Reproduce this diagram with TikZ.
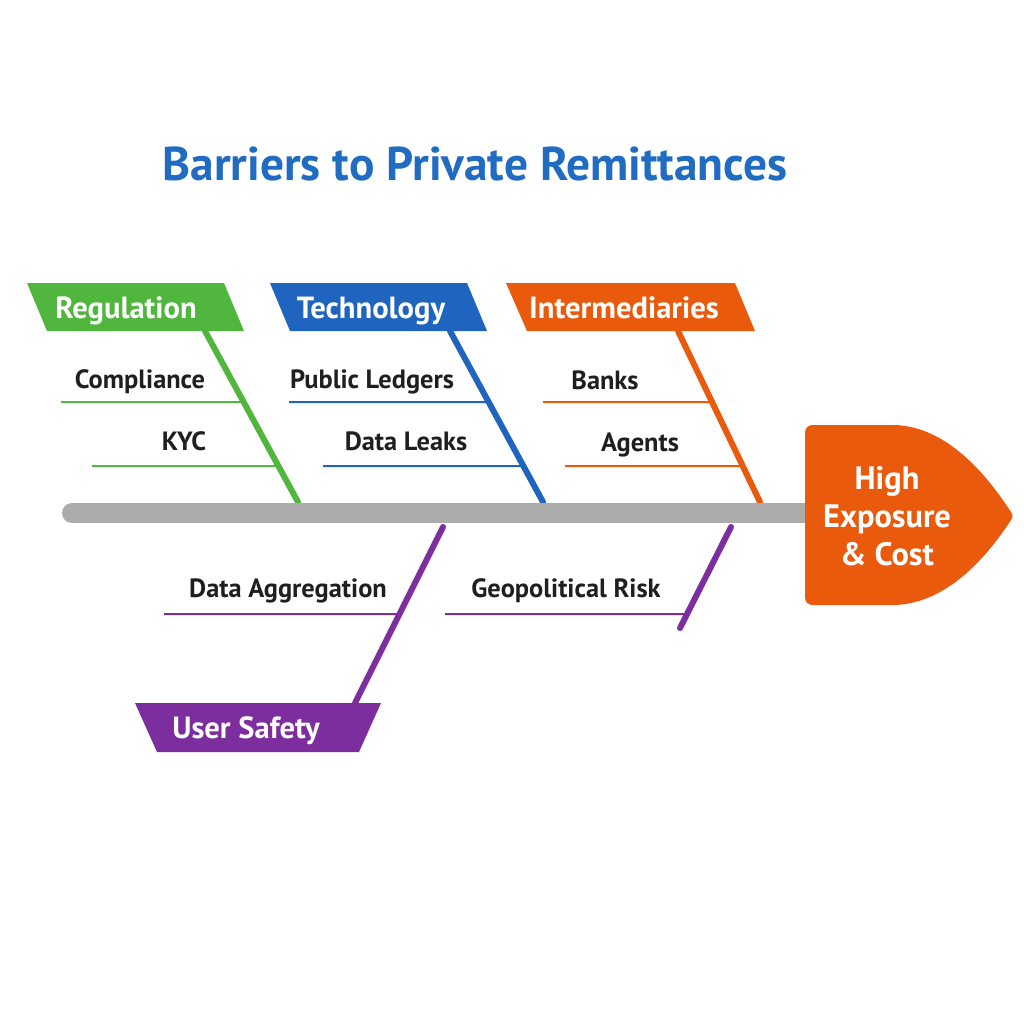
\documentclass[tikz,border=0pt]{standalone}
\usepackage{fontspec}
\setmainfont{PT Sans}
\definecolor{titleblue}{RGB}{31,108,194}
\definecolor{regc}{RGB}{80,182,62}
\definecolor{techc}{RGB}{31,100,190}
\definecolor{interc}{RGB}{234,90,12}
\definecolor{userc}{RGB}{124,46,158}
\definecolor{spinec}{RGB}{172,172,172}
\begin{document}
\begin{tikzpicture}[x=0.5pt,y=-0.5pt,
  cat/.style={font=\bfseries\fontsize{15.3}{17}\selectfont, text=white, anchor=base, inner sep=0pt},
  sub/.style={font=\bfseries\fontsize{13.2}{15}\selectfont, text=black!88, anchor=base, inner sep=0pt},
  bone/.style={line width=3pt, line cap=round},
  twig/.style={line width=1pt}]
  \useasboundingbox[fill=white] (0,0) rectangle (1024,1024);
  \node[font=\bfseries\fontsize{23.7}{28}\selectfont, text=titleblue, anchor=base] (title) at (475,180) {Barriers to Private Remittances};
  % bones
  \coordinate (regb) at (205,331); \coordinate (regs) at (298,502);
  \coordinate (techb) at (450,331); \coordinate (techs) at (543,502);
  \coordinate (interb) at (678,331); \coordinate (inters) at (760,502);
  \coordinate (userb) at (355,703); \coordinate (users) at (443,527);
  \coordinate (geos) at (731,527); \coordinate (geob) at (680,628);
  \draw[bone, regc] (regb) -- (regs);
  \draw[bone, techc] (techb) -- (techs);
  \draw[bone, interc] (interb) -- (inters);
  \draw[bone, userc] (userb) -- (users);
  \draw[bone, userc] (geob) -- (geos);
  % spine and head
  \coordinate (tail) at (72,513);
  \coordinate (spineend) at (815,513);
  \draw[spinec, line width=10pt, line cap=round] (tail) -- (spineend);
  \fill[interc] (813,425) -- (895,425) .. controls (950,427) and (990,480) .. (1011,512)
    .. controls (1013,515) and (1013,517) .. (1011,520)
    .. controls (990,552) and (950,603) .. (895,605) -- (813,605)
    .. controls (808,605) and (805,602) .. (805,597) -- (805,433)
    .. controls (805,428) and (808,425) .. (813,425) -- cycle;
  \node[font=\bfseries\fontsize{16.2}{19}\selectfont, text=white, align=center] (effect) at (887,516) {High\\Exposure\\\& Cost};
  % categories
  \fill[regc] (27,283) -- (224,283) -- (244,331) -- (47,331) -- cycle;
  \node[cat] (reg) at (126,318) {Regulation};
  \fill[techc] (270,283) -- (467,283) -- (487,331) -- (290,331) -- cycle;
  \node[cat] (tech) at (371,318) {Technology};
  \fill[interc] (506,283) -- (735,283) -- (755,331) -- (527,331) -- cycle;
  \node[cat] (inter) at (624,318) {Intermediaries};
  \fill[userc] (135,703) -- (381,703) -- (359,752) -- (157,752) -- cycle;
  \node[cat] (user) at (246,738) {User Safety};
  % causes
  \node[sub] (compl) at (140,388) {Compliance};
  \node[sub] (kyc) at (184,450) {KYC};
  \node[sub] (ledg) at (372,388) {Public Ledgers};
  \node[sub] (leak) at (406,450) {Data Leaks};
  \node[sub] (bank) at (605,389) {Banks};
  \node[sub] (agent) at (640,451) {Agents};
  \node[sub] (aggr) at (288,597) {Data Aggregation};
  \node[sub] (geo) at (566,597) {Geopolitical Risk};
  \coordinate (compla) at (61,402); \coordinate (kyca) at (92,466);
  \coordinate (ledga) at (289,402); \coordinate (leaka) at (323,466);
  \coordinate (banka) at (543,402); \coordinate (agenta) at (565,466);
  \coordinate (aggra) at (164,614); \coordinate (geoa) at (445,614);
  \draw[twig, regc] (compla) -- (intersection of regb--regs and compla--{1000,402});
  \draw[twig, regc] (kyca) -- (intersection of regb--regs and kyca--{1000,466});
  \draw[twig, techc] (ledga) -- (intersection of techb--techs and ledga--{1000,402});
  \draw[twig, techc] (leaka) -- (intersection of techb--techs and leaka--{1000,466});
  \draw[twig, interc] (banka) -- (intersection of interb--inters and banka--{1000,402});
  \draw[twig, interc] (agenta) -- (intersection of interb--inters and agenta--{1000,466});
  \draw[twig, userc] (aggra) -- (intersection of userb--users and aggra--{1000,614});
  \draw[twig, userc] (geoa) -- (intersection of geob--geos and geoa--{1000,614});
\end{tikzpicture}
\end{document}
